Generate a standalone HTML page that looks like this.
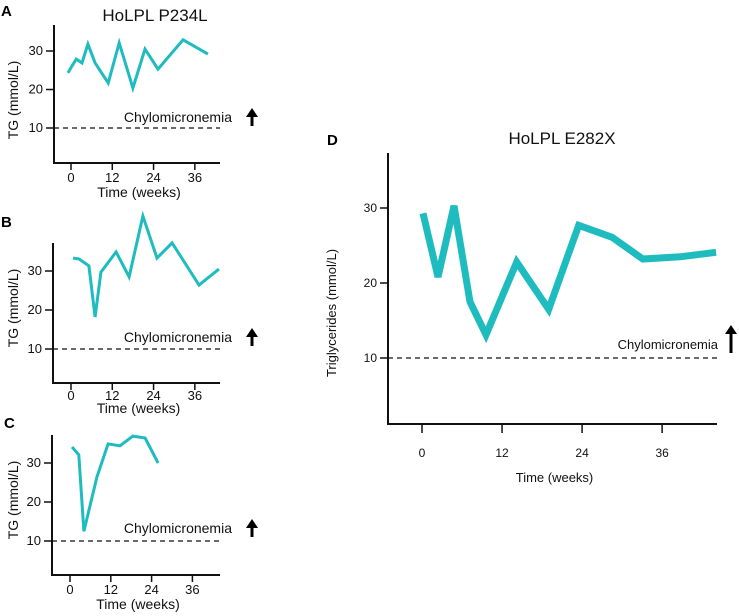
<!DOCTYPE html>
<html><head><meta charset="utf-8"><style>
body{margin:0;background:#fff;}
svg{display:block;font-family:"Liberation Sans",Arial,sans-serif;}
</style></head><body>
<svg id="fig" width="739" height="616" viewBox="0 0 739 616"></svg>
<script>
const weeksA=[-0.9,1.5,3.2,4.9,7.0,10.8,14.0,18.0,21.5,25.3,32.6,39.8];
const tgA=[24.3,27.9,26.9,31.8,26.9,21.7,32.1,20.4,30.5,25.3,32.9,29.2];
const weeksB=[0.6,2.3,5.2,7.0,8.7,13.1,16.9,20.9,25.0,29.4,37.2,43.0];
const tgB=[33.3,33.1,31.3,18.2,29.7,34.9,28.5,44.1,33.3,37.2,26.4,30.5];
const weeksC=[0.6,2.6,4.1,7.9,11.2,14.7,18.5,22.1,25.9];
const tgC=[34.1,32.1,12.5,26.4,34.9,34.4,36.9,36.4,30.0];
const weeksD=[0.15,2.4,4.8,7.2,9.6,14.2,19.0,23.5,28.5,33.1,38.7,44.1];
const tgD=[29.3,20.8,30.3,17.5,13.1,22.8,16.5,27.7,26.1,23.2,23.5,24.1];
const xTicks=[0,12,24,36];
const yTicks=[10,20,30];
const threshold=10;

const NS="http://www.w3.org/2000/svg";
const svg=document.getElementById('fig');
function el(tag,attrs,parent,text){const e=document.createElementNS(NS,tag);for(const k in attrs)e.setAttribute(k,attrs[k]);if(text!==undefined)e.textContent=text;(parent||svg).appendChild(e);return e;}

const panels=[
 {id:'a',letter:'A',title:'HoLPL P234L',wx:weeksA,v:tgA,ax:54,top:25,base:163,right:220,x0:71,pxw:3.44,y30:51,pxu:3.85,lw:3,fs:13,tfs:17,titleX:155,titleY:21,letX:1,letY:16,ylab:'TG (mmol/L)',ylabX:18,ylabY:100,tickLY:182,xlabY:197,chX:232,chY:122,arrX:252,arrY1:126,arrY2:108,tickLen:7},
 {id:'b',letter:'B',title:null,wx:weeksB,v:tgB,ax:53,top:243,base:383,right:220,x0:71,pxw:3.44,y30:271,pxu:3.9,lw:3,fs:13,letX:1,letY:227,ylab:'TG (mmol/L)',ylabX:18,ylabY:308,tickLY:400,xlabY:413,chX:232,chY:342,arrX:252,arrY1:346,arrY2:328,tickLen:7},
 {id:'c',letter:'C',title:null,wx:weeksC,v:tgC,ax:52,top:435,base:575,right:220,x0:70,pxw:3.4,y30:463,pxu:3.9,lw:3,fs:13,letX:4,letY:428,ylab:'TG (mmol/L)',ylabX:18,ylabY:500,tickLY:594,xlabY:609,chX:232,chY:533,arrX:252,arrY1:537,arrY2:519,tickLen:7},
 {id:'d',letter:'D',title:'HoLPL E282X',wx:weeksD,v:tgD,ax:388,top:153,base:424,right:717,x0:422,pxw:6.67,y30:208,pxu:7.5,lw:7,fs:12,tfs:17,titleX:562,titleY:144,letX:327,letY:145,ylab:'Triglycerides (mmol/L)',ylabX:336,ylabY:313,tickLY:457,xlabY:482,chX:718,chY:349,arrX:731,arrY1:353,arrY2:325,tickLen:9}
];

panels.forEach(p=>{
 const g=el('g',{});
 
 
 const xs=w=>p.x0+w*p.pxw;
 const ys=v=>p.y30-(v-30)*p.pxu;
 const L=el('text',{x:p.letX,y:p.letY,'font-size':15,'font-weight':'bold',fill:'#000'},g,p.letter);
 
 
 if(p.title){const t=el('text',{x:p.titleX,y:p.titleY,'font-size':p.tfs,'text-anchor':'middle',fill:'#111'},g,p.title);
  
  }
 const ya=el('line',{x1:p.ax,y1:p.top,x2:p.ax,y2:p.base,stroke:'#111','stroke-width':2},g);
 
 
 const xa=el('line',{x1:p.ax-1,y1:p.base,x2:p.right,y2:p.base,stroke:'#111','stroke-width':2},g);
 
 
 yTicks.forEach(v=>{
  const tk=el('line',{x1:p.ax-8,y1:ys(v),x2:p.ax,y2:ys(v),stroke:'#111','stroke-width':1.5},g);
  
  
  const tl=el('text',{x:p.ax-11,y:ys(v)+4,'font-size':p.fs,'text-anchor':'end',fill:'#111'},g,v);
  
  
 });
 xTicks.forEach(w=>{
  const tk=el('line',{x1:xs(w),y1:p.base,x2:xs(w),y2:p.base+p.tickLen,stroke:'#111','stroke-width':1.5},g);
  
  
  const tl=el('text',{x:xs(w),y:p.tickLY,'font-size':p.fs,'text-anchor':'middle',fill:'#111'},g,w);
  
  
 });
 const xl=el('text',{x:(p.ax+p.right)/2+2,y:p.xlabY,'font-size':p.fs+1,'text-anchor':'middle',fill:'#111'},g,'Time (weeks)');
 
 
 const yl=el('text',{x:p.ylabX,y:p.ylabY,'font-size':p.fs+1,'text-anchor':'middle',fill:'#111',transform:`rotate(-90 ${p.ylabX} ${p.ylabY})`},g,p.ylab);
 
 
 const th=el('line',{x1:p.ax,y1:ys(threshold),x2:p.right,y2:ys(threshold),stroke:'#111','stroke-width':1.3,'stroke-dasharray':'5,4'},g);
 
 
 const ch=el('text',{x:p.chX,y:p.chY,'font-size':p.fs+1,'text-anchor':'end',fill:'#111'},g,'Chylomicronemia');
 
 
 const ag=el('g',{},g);
 
 
 el('line',{x1:p.arrX,y1:p.arrY1,x2:p.arrX,y2:p.arrY2+7,stroke:'#000','stroke-width':3},ag);
 el('polygon',{points:`${p.arrX-6},${p.arrY2+9} ${p.arrX+6},${p.arrY2+9} ${p.arrX},${p.arrY2}`,fill:'#000'},ag);
 const pts=p.wx.map((w,i)=>xs(w).toFixed(1)+','+ys(p.v[i]).toFixed(1)).join(' ');
 const ln=el('polyline',{points:pts,fill:'none',stroke:'#1fbcbf','stroke-width':p.lw,'stroke-linejoin':'miter','stroke-miterlimit':4},g);
 
 
});
</script>
</body></html>
